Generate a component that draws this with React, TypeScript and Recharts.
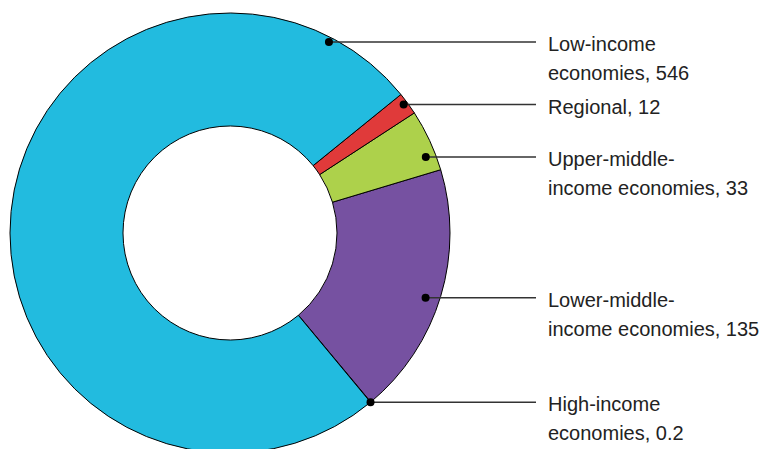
import React from 'react';
import { PieChart, Pie, Cell } from 'recharts';

// listed counterclockwise, starting at the high-income boundary (lower right)
const categories = [
  'High-income economies',
  'Lower-middle-income economies',
  'Upper-middle-income economies',
  'Regional',
  'Low-income economies',
];
const values = [0.2, 135, 33, 12, 546];
const labelFirst = ['High-income', 'Lower-middle-', 'Upper-middle-', 'Regional', 'Low-income'];
const labelSecond = ['economies', 'income economies', 'income economies', '', 'economies'];

const colors = ['#22BBDF', '#7651A1', '#ADD14B', '#E03A3A', '#22BBDF'];

// where each leader dot sits: polar angle (deg) and distance inside the outer edge
const anchors = [
  { angle: -50.3, inset: 0 },
  { angle: -18.3, inset: 14 },
  { angle: 21.2, inset: 10 },
  { angle: 36.5, inset: 4 },
  { angle: 62.6, inset: 5 },
];

const data = categories.map((name, i) => ({ name, value: values[i] }));

const RAD = Math.PI / 180;
const LINE_END = 536;
const TEXT_X = 548;

const renderLabel = (props: any) => {
  const { cx, cy, outerRadius, index } = props;
  const a = anchors[index];
  const r = outerRadius - a.inset;
  const x = cx + r * Math.cos(a.angle * RAD);
  const y = cy - r * Math.sin(a.angle * RAD);
  const v = values[index];
  const single = labelSecond[index] === '';
  return (
    <g key={`lbl-${index}`}>
      <line x1={x} y1={y} x2={LINE_END} y2={y} stroke="#333" strokeWidth={1.5} />
      <circle cx={x} cy={y} r={4} fill="#000" />
      <text x={TEXT_X} y={y + 9} fill="#222" fontSize={20} fontFamily="'Liberation Sans', Arial, sans-serif">
        {single ? `${labelFirst[index]}, ${v}` : labelFirst[index]}
      </text>
      {!single && (
        <text x={TEXT_X} y={y + 38} fill="#222" fontSize={20} fontFamily="'Liberation Sans', Arial, sans-serif">
          {`${labelSecond[index]}, ${v}`}
        </text>
      )}
    </g>
  );
};

const App: React.FC = () => {
  return (
    <div style={{ width: 761, height: 449, background: '#fff' }}>
      <style>{'body{margin:0;}'}</style>
      <PieChart width={761} height={449} margin={{ top: 0, right: 0, bottom: 0, left: 0 }}>
        <Pie
          data={data}
          dataKey="value"
          nameKey="name"
          cx={230}
          cy={233}
          innerRadius={107}
          outerRadius={220}
          startAngle={-50.3}
          endAngle={309.7}
          stroke="#000"
          strokeWidth={1}
          label={renderLabel}
          labelLine={false}
          isAnimationActive={false}
        >
          {data.map((entry, index) => (
            <Cell key={`cell-${index}`} fill={colors[index]} />
          ))}
        </Pie>
      </PieChart>
    </div>
  );
};

export default App;
